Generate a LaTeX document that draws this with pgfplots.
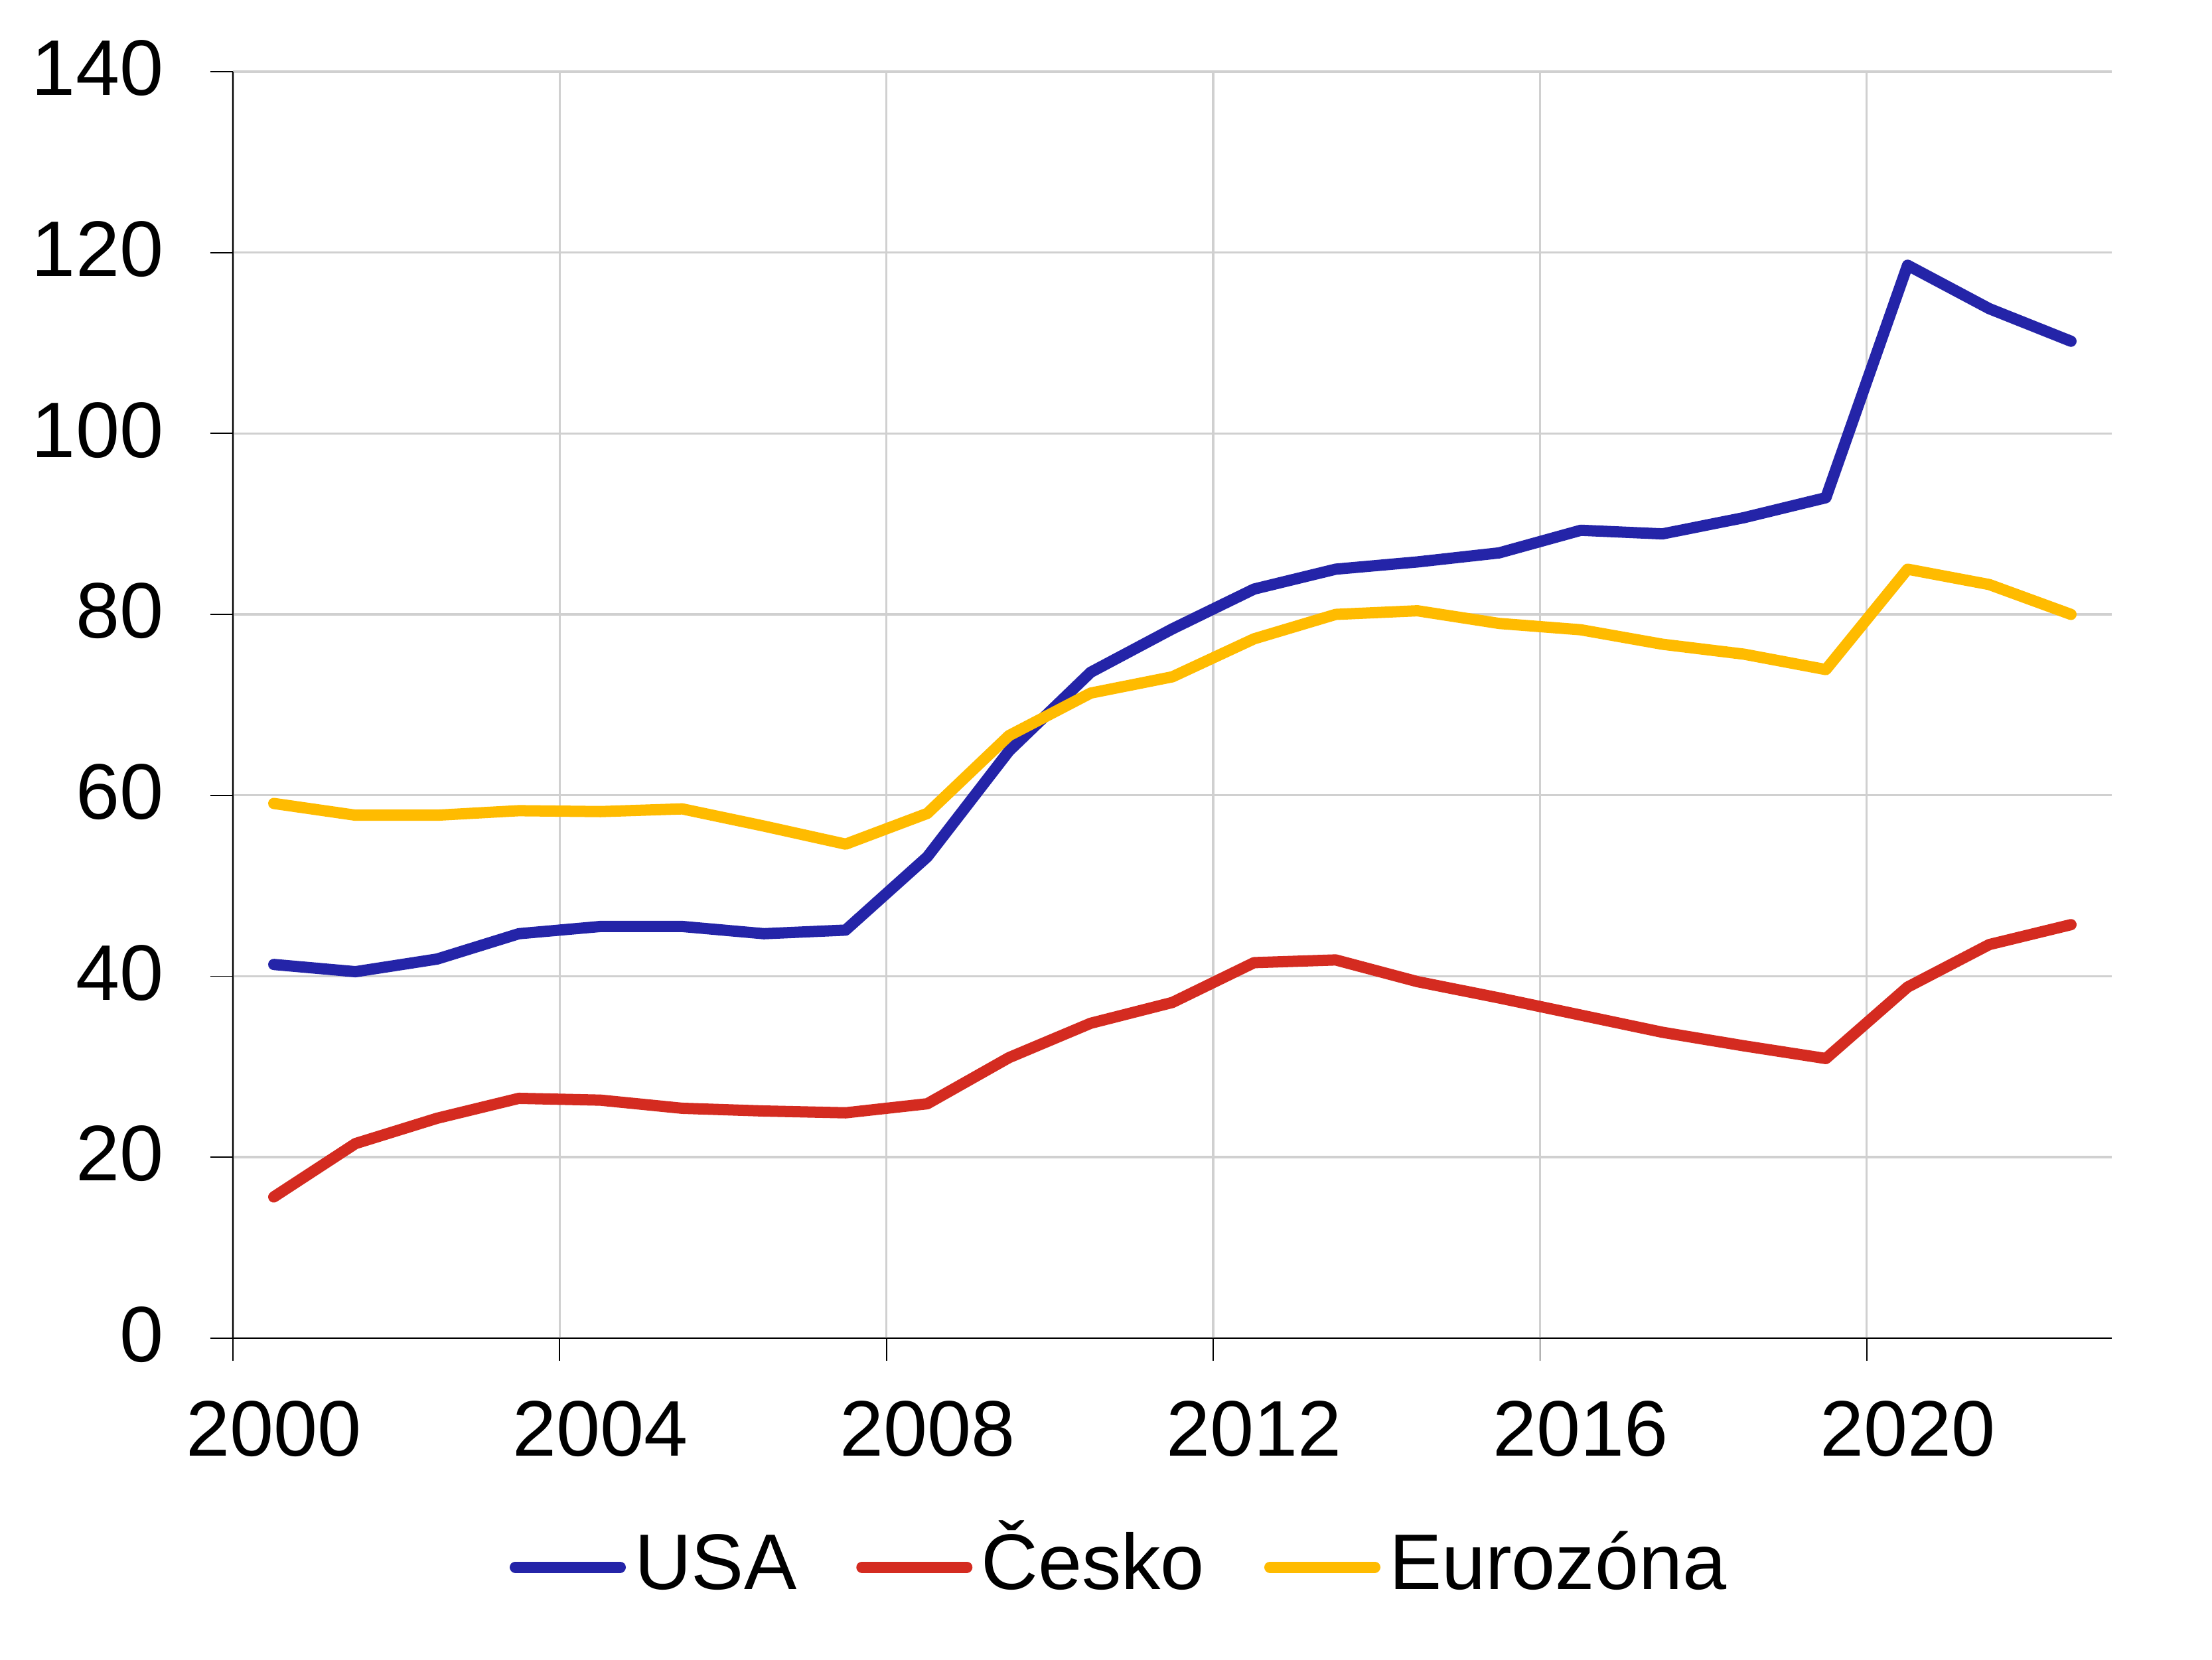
\documentclass[border=0pt]{standalone}
\usepackage{fontspec}
\setmainfont{Liberation Sans}
\usepackage{pgfplots}
\pgfplotsset{compat=1.18}
\definecolor{usa}{HTML}{2424A8}
\definecolor{cz}{HTML}{D42B20}
\definecolor{ez}{HTML}{FFBB00}
\definecolor{gridgray}{HTML}{D0D0D0}
\newcommand{\chartfont}{\fontsize{16.9}{20}\selectfont}

\begin{document}
\begin{tikzpicture}
\path[use as bounding box] (-1.755cm,-2.422cm) rectangle (14.91cm,10.0835cm);
\begin{axis}[
	width=14.155cm, height=9.5435cm, scale only axis,
	at={(0,0)}, anchor=south west,
	xmin=2000, xmax=2023, ymin=0, ymax=140,
	xtick={2000,2004,...,2020}, ytick={0,20,...,140},
	axis x line*=bottom, axis y line*=left,
	xmajorgrids, ymajorgrids,
	grid style={gridgray, line width=0.47pt},
	axis line style={black, line width=0.25pt},
	tick style={black, line width=0.25pt},
	tick align=outside, major tick length=0.172cm,
	/pgf/number format/assume math mode=true,
	/pgf/number format/1000 sep={},
	ticklabel style={font=\chartfont, inner sep=0pt},
	xticklabel style={anchor=north, xshift=0.3077cm, yshift=-0.295cm},
	yticklabel style={anchor=east, xshift=-0.345cm, yshift=0.025cm},
	legend style={draw=none, fill=none, legend columns=-1,
		at={(0.1473,-0.1809)}, anchor=west, inner sep=0pt, outer sep=0pt,
		font=\chartfont, nodes={inner sep=0pt, text height=0.94em, text depth=0pt},
		/tikz/every odd column/.append style={column sep=0.065cm},
		/tikz/every even column/.append style={column sep=0.45cm}},
	legend image code/.code={\draw[#1] (0cm,0cm) -- (0.79cm,0cm);},
	every axis plot/.append style={line width=2.42pt, line join=round, line cap=round},
	no markers,
	]
	\addplot[usa] coordinates {
		(2000.5,41.3) (2001.5,40.5) (2002.5,41.9) (2003.5,44.7) (2004.5,45.5)
		(2005.5,45.5) (2006.5,44.7) (2007.5,45.1) (2008.5,53.2) (2009.5,64.9)
		(2010.5,73.6) (2011.5,78.4) (2012.5,82.8) (2013.5,85.0) (2014.5,85.8)
		(2015.5,86.8) (2016.5,89.3) (2017.5,88.9) (2018.5,90.7) (2019.5,92.9)
		(2020.5,118.6) (2021.5,113.8) (2022.5,110.2)
		};
	\addlegendentry{USA}
	\addplot[cz] coordinates {
		(2000.5,15.6) (2001.5,21.5) (2002.5,24.3) (2003.5,26.5) (2004.5,26.3)
		(2005.5,25.4) (2006.5,25.1) (2007.5,24.9) (2008.5,25.9) (2009.5,31.0)
		(2010.5,34.8) (2011.5,37.1) (2012.5,41.5) (2013.5,41.8) (2014.5,39.4)
		(2015.5,37.6) (2016.5,35.7) (2017.5,33.8) (2018.5,32.3) (2019.5,30.9)
		(2020.5,38.8) (2021.5,43.5) (2022.5,45.7)
		};
	\addlegendentry{Česko}
	\addplot[ez] coordinates {
		(2000.5,59.1) (2001.5,57.8) (2002.5,57.8) (2003.5,58.3) (2004.5,58.2)
		(2005.5,58.5) (2006.5,56.6) (2007.5,54.6) (2008.5,58.0) (2009.5,66.6)
		(2010.5,71.3) (2011.5,73.1) (2012.5,77.3) (2013.5,80.0) (2014.5,80.4)
		(2015.5,79.0) (2016.5,78.3) (2017.5,76.7) (2018.5,75.6) (2019.5,73.9)
		(2020.5,85.0) (2021.5,83.3) (2022.5,80.0)
		};
	\addlegendentry{Eurozóna}
\end{axis}
\end{tikzpicture}
\end{document}
